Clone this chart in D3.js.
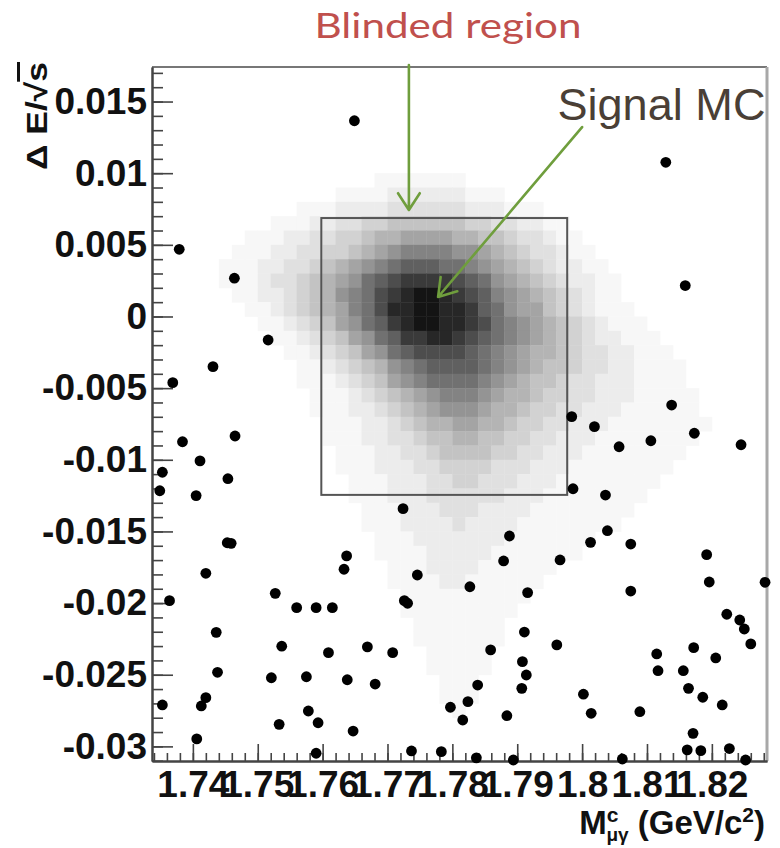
<!DOCTYPE html>
<html>
<head>
<meta charset="utf-8">
<script src="https://cdn.jsdelivr.net/npm/d3@7"></script>
<style>
  html, body { margin: 0; padding: 0; background: #ffffff; }
  svg { display: block; }
</style>
</head>
<body>
<svg id="chart" width="780" height="848"></svg>
<script>
// Background events: constrained mass M(μγ) in GeV/c² and ΔE/√s
const bkgMass = [
  1.7649, 1.7379, 1.7464, 1.8129, 1.8159, 1.7516, 1.7431, 1.7369, 1.7465, 1.7384,
  1.7411, 1.7353, 1.7454, 1.7349, 1.7405, 1.7724, 1.8138, 1.7984, 1.8019, 1.8173,
  1.8106, 1.8057, 1.8245, 1.7986, 1.8036, 1.8039, 1.7888, 1.7453, 1.7459, 1.7637,
  1.7633, 1.7420, 1.7746, 1.7364, 1.7527, 1.7726, 1.7731, 1.7560, 1.7590, 1.7615,
  1.7436, 1.7537, 1.7609, 1.7669, 1.7708, 1.7438, 1.7521, 1.7575, 1.7638, 1.7681,
  1.7353, 1.7420, 1.7413, 1.7578, 1.7533, 1.7593, 1.7797, 1.7647, 1.7406, 1.7590,
  1.7737, 1.7783, 1.8013, 1.8075, 1.7879, 1.7966, 1.8192, 1.7827, 1.7916, 1.8075,
  1.8196, 1.8282, 1.8223, 1.8243, 1.8250, 1.8260, 1.7911, 1.7961, 1.7859, 1.8115,
  1.8172, 1.8206, 1.7908, 1.7914, 1.8117, 1.8156, 1.7839, 1.7907, 1.8164, 1.8002,
  1.8186, 1.8216, 1.7824, 1.7816, 1.7884, 1.8014, 1.8089, 1.8171, 1.8162, 1.8183,
  1.8227, 1.7837, 1.7894, 1.8062, 1.8252
];
const bkgDE = [
  0.01366, 0.00469, 0.00267, 0.01076, 0.00216, -0.00164, -0.00350, -0.00462, -0.00834, -0.00874,
  -0.01008, -0.01087, -0.01132, -0.01216, -0.01250, -0.01341, -0.00618, -0.00699, -0.00769, -0.00815,
  -0.00867, -0.00909, -0.00895, -0.01202, -0.01246, -0.01495, -0.01532, -0.01579, -0.01583, -0.01671,
  -0.01764, -0.01792, -0.01804, -0.01983, -0.01932, -0.01983, -0.02001, -0.02032, -0.02032, -0.02032,
  -0.02204, -0.02301, -0.02346, -0.02306, -0.02346, -0.02483, -0.02521, -0.02514, -0.02535, -0.02565,
  -0.02711, -0.02660, -0.02718, -0.02753, -0.02846, -0.02835, -0.02727, -0.02893, -0.02948, -0.03048,
  -0.03032, -0.03037, -0.01576, -0.01588, -0.01706, -0.01699, -0.01662, -0.01886, -0.01927, -0.01916,
  -0.01853, -0.01855, -0.02078, -0.02118, -0.02181, -0.02285, -0.02202, -0.02292, -0.02327, -0.02355,
  -0.02311, -0.02383, -0.02409, -0.02502, -0.02472, -0.02472, -0.02572, -0.02595, -0.02595, -0.02636,
  -0.02657, -0.02711, -0.02688, -0.02816, -0.02786, -0.02769, -0.02758, -0.02909, -0.03024, -0.03030,
  -0.03015, -0.03080, -0.03095, -0.03088, -0.03095
];

// Signal MC 2D histogram: bins of 0.002 in mass and 0.001 in ΔE/√s.
// Each row is [first mass bin, hex-coded occupancy levels 0..f], from ΔE/√s = 0.010 downwards.
const mcMassStart = 1.744, mcMassStep = 0.002;
const mcDETop = 0.010, mcDEStep = 0.001;
const mcDensity = [
  [12, "1111111"],
  [9,  "1111222222111"],
  [6,  "1112222333333222111"],
  [4,  "11122334455555544332211"],
  [2,  "11122334456677776655433211"],
  [1,  "1112233445678999988765433211"],
  [0,  "1112233456789abbbaa98765432211"],
  [0,  "11123345678abcddddcba8765432211"],
  [1,  "1122345689acdeffedcb9876543211"],
  [2,  "112345679aceeffeedba8775432111"],
  [3,  "11234578abdeffeedca98765432111"],
  [4,  "11234578abddeedcba987654322111"],
  [5,  "11234578abccccba98766543322111"],
  [6,  "112345689abbbba987655433221111"],
  [6,  "1112345789aaaa9876554332221111"],
  [7,  "111234567899987665443322211111"],
  [7,  "111223456788876654433222111111"],
  [8,  "111223456677665443322211111111"],
  [8,  "11122334556655443322211111111"],
  [9,  "111223345555443322211111111"],
  [9,  "11122233444433322211111111"],
  [10, "111222334433322211111111"],
  [10, "11122233333322211111111"],
  [11, "111222333222211111111"],
  [11, "11122223222211111111"],
  [12, "11122222221111111"],
  [12, "1111222221111111"],
  [13, "1112222111111"],
  [13, "111122111111"],
  [14, "1111111111"],
  [14, "111111111"],
  [15, "1111111"],
  [15, "1111111"],
  [16, "11111"],
  [16, "11111"],
  [17, "111"],
  [17, "111"],
  [18, "1"]
];

// Blinded region limits
const blindMass = [1.7598, 1.7977];
const blindDE = [-0.01245, 0.00687];

// Axis ticks
const xTickValues = [1.74, 1.75, 1.76, 1.77, 1.78, 1.79, 1.80, 1.81, 1.82];
const xTickLabels = ["1.74", "1.75", "1.76", "1.77", "1.78", "1.79", "1.8", "1.81", "1.82"];
const yTickValues = [-0.03, -0.025, -0.02, -0.015, -0.01, -0.005, 0, 0.005, 0.01, 0.015];
const yTickLabels = ["-0.03", "-0.025", "-0.02", "-0.015", "-0.01", "-0.005", "0", "0.005", "0.01", "0.015"];

// ---------------------------------------------------------------
const svg = d3.select("#chart");
const plot = { left: 152, right: 767, top: 67, bottom: 761 };

const x = d3.scaleLinear().domain([1.7337, 1.8285]).range([plot.left, plot.right]);
const y = d3.scaleLinear().domain([-0.03102, 0.01741]).range([plot.bottom, plot.top]);

const FONT = "'Liberation Sans', Arial, Helvetica, sans-serif";

// Signal MC histogram cells (grey palette, slightly compressed at low occupancy)
const greys = d3.interpolateRgb("#ffffff", "#141414");
const shade = L => greys(Math.pow(L / 15, 1.25));
const cells = [];
mcDensity.forEach(([start, levels], r) => {
  for (let k = 0; k < levels.length; k++) {
    const L = parseInt(levels[k], 16);
    if (L > 0) cells.push({ c: start + k, r, L });
  }
});
svg.append("g")
  .selectAll("rect")
  .data(cells)
  .join("rect")
  .attr("x", d => x(mcMassStart + d.c * mcMassStep))
  .attr("width", d => x(mcMassStart + (d.c + 1) * mcMassStep) - x(mcMassStart + d.c * mcMassStep) + 0.4)
  .attr("y", d => y(mcDETop - d.r * mcDEStep))
  .attr("height", d => y(mcDETop - (d.r + 1) * mcDEStep) - y(mcDETop - d.r * mcDEStep) + 0.4)
  .attr("fill", d => shade(d.L));

// Blinded region box
svg.append("rect")
  .attr("x", x(blindMass[0]))
  .attr("y", y(blindDE[1]))
  .attr("width", x(blindMass[1]) - x(blindMass[0]))
  .attr("height", y(blindDE[0]) - y(blindDE[1]))
  .attr("fill", "none")
  .attr("stroke", "#555")
  .attr("stroke-width", 2);

// Frame (top and right)
svg.append("line")
  .attr("x1", plot.left).attr("x2", plot.right)
  .attr("y1", plot.top).attr("y2", plot.top)
  .attr("stroke", "#777").attr("stroke-width", 2);
svg.append("line")
  .attr("x1", plot.right).attr("x2", plot.right)
  .attr("y1", plot.top).attr("y2", plot.bottom)
  .attr("stroke", "#a8a8a8").attr("stroke-width", 3);

// Axes
function styleAxis(g) {
  g.select(".domain").attr("stroke", "#444").attr("stroke-width", 2);
  g.selectAll(".tick line").attr("stroke", "#444").attr("stroke-width", 1.6);
  g.selectAll(".tick text")
    .attr("fill", "#111")
    .style("font-family", FONT)
    .style("font-weight", "bold")
    .style("font-size", "37px");
}

const yMinor = d3.range(-31, 18).map(k => k / 1000);
const xMinor = d3.range(867, 915).map(k => k * 0.002);

svg.append("g")
  .attr("transform", `translate(${plot.left},0)`)
  .call(d3.axisLeft(y).tickValues(yMinor).tickFormat("").tickSize(-11).tickSizeOuter(0))
  .call(styleAxis);
svg.append("g")
  .attr("transform", `translate(${plot.left},0)`)
  .call(d3.axisLeft(y).tickValues(yTickValues).tickFormat((d, i) => yTickLabels[i])
    .tickSize(-21).tickSizeOuter(0).tickPadding(5))
  .call(styleAxis);

svg.append("g")
  .attr("transform", `translate(0,${plot.bottom})`)
  .call(d3.axisBottom(x).tickValues(xMinor.filter(v => v >= x.domain()[0] && v <= x.domain()[1]))
    .tickFormat("").tickSize(-8).tickSizeOuter(0))
  .call(styleAxis);
svg.append("g")
  .attr("transform", `translate(0,${plot.bottom})`)
  .call(d3.axisBottom(x).tickValues(xTickValues).tickFormat((d, i) => xTickLabels[i])
    .tickSize(-17).tickSizeOuter(0).tickPadding(10))
  .call(styleAxis);

// Background events
svg.append("g")
  .selectAll("circle")
  .data(bkgMass.map((m, i) => [m, bkgDE[i]]))
  .join("circle")
  .attr("cx", d => x(d[0]))
  .attr("cy", d => y(d[1]))
  .attr("r", 5.4)
  .attr("fill", "#000");

// Axis titles
const yTitle = svg.append("text")
  .attr("transform", "translate(47,62) rotate(-90)")
  .attr("text-anchor", "end")
  .style("font-family", FONT)
  .style("font-weight", "bold")
  .style("font-size", "30px")
  .attr("fill", "#111")
  .attr("textLength", 108)
  .attr("lengthAdjust", "spacingAndGlyphs");
yTitle.append("tspan").text("Δ E/√");
yTitle.append("tspan").style("text-decoration", "overline").text("s");

const xTitle = svg.append("text")
  .attr("x", 765).attr("y", 834)
  .attr("text-anchor", "end")
  .style("font-family", FONT)
  .style("font-weight", "bold")
  .style("font-size", "33px")
  .attr("fill", "#111");
xTitle.append("tspan").text("M");
xTitle.append("tspan").attr("dy", -12).style("font-size", "21px").text("c");
xTitle.append("tspan").attr("dx", -12).attr("dy", 19).style("font-size", "19px").text("μγ");
xTitle.append("tspan").attr("dy", -7).text(" (GeV/c");
xTitle.append("tspan").attr("dy", -12).style("font-size", "21px").text("2");
xTitle.append("tspan").attr("dy", 12).text(")");

// Annotations
const GREEN = "#6f9e3d";
function arrow(from, to) {
  const x0 = x(from[0]), y0 = y(from[1]), x1 = x(to[0]), y1 = y(to[1]);
  const len = Math.hypot(x1 - x0, y1 - y0);
  const ux = (x1 - x0) / len, uy = (y1 - y0) / len;
  const head = 20, ang = 33 * Math.PI / 180;
  const arm = s => {
    const c = Math.cos(s * ang), sn = Math.sin(s * ang);
    const rx = ux * c - uy * sn, ry = ux * sn + uy * c;
    return [x1 - head * rx, y1 - head * ry];
  };
  const a = arm(1), b = arm(-1);
  svg.append("path")
    .attr("d", `M${x0},${y0}L${x1},${y1}M${a[0]},${a[1]}L${x1},${y1}L${b[0]},${b[1]}`)
    .attr("fill", "none")
    .attr("stroke", GREEN)
    .attr("stroke-width", 2.6)
    .attr("stroke-linecap", "round")
    .attr("stroke-linejoin", "round");
}
arrow([1.7733, 0.01755], [1.7733, 0.00743]);
arrow([1.8000, 0.01322], [1.7778, 0.00136]);

svg.append("text")
  .attr("x", 448).attr("y", 38)
  .attr("text-anchor", "middle")
  .style("font-family", "Lato, 'Open Sans', sans-serif")
  .style("font-size", "34px")
  .attr("fill", "#c0504d")
  .attr("textLength", 267)
  .attr("lengthAdjust", "spacingAndGlyphs")
  .text("Blinded region");

svg.append("text")
  .attr("x", x(1.7962)).attr("y", 120)
  .style("font-family", FONT)
  .style("font-size", "44px")
  .attr("fill", "#4a3f36")
  .attr("textLength", 208)
  .attr("lengthAdjust", "spacingAndGlyphs")
  .text("Signal MC");
</script>
</body>
</html>
